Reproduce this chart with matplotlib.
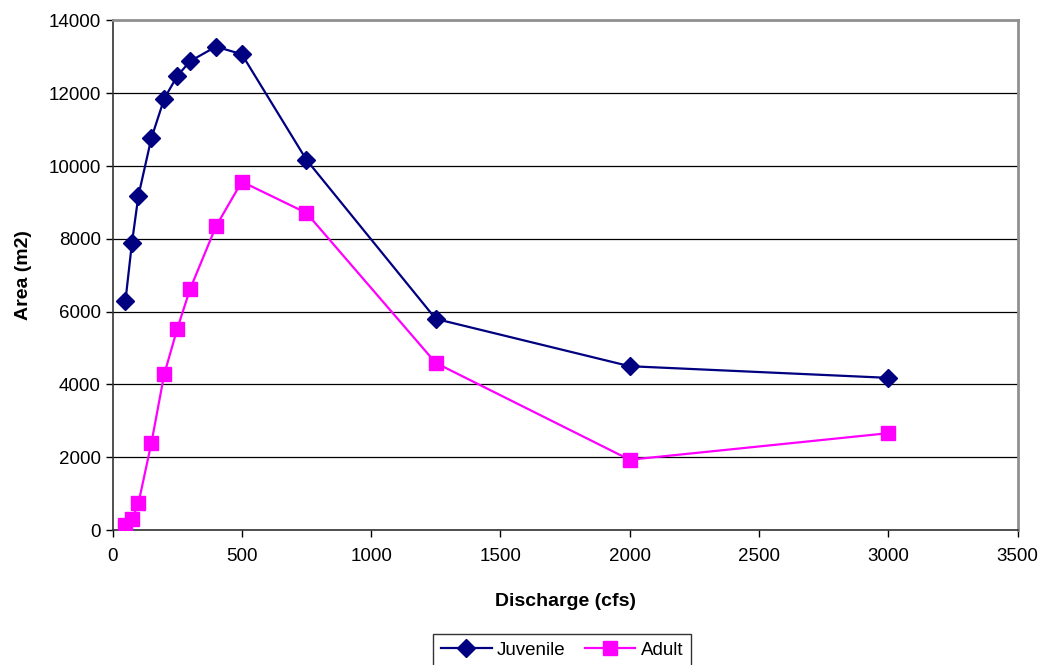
import matplotlib
matplotlib.use("Agg")
import matplotlib.pyplot as plt

plt.rcParams['font.family'] = ['Liberation Sans', 'DejaVu Sans']

discharge = [50, 75, 100, 150, 200, 250, 300, 400, 500, 750, 1250, 2000, 3000]
juvenile = [6300, 7880, 9180, 10760, 11850, 12470, 12880, 13280, 13070, 10170, 5800, 4500, 4180]
adult = [130, 290, 730, 2380, 4280, 5520, 6620, 8340, 9570, 8710, 4590, 1930, 2660]

x_ticks = [0, 500, 1000, 1500, 2000, 2500, 3000, 3500]
y_ticks = [0, 2000, 4000, 6000, 8000, 10000, 12000, 14000]

fig = plt.figure(figsize=(10.4, 6.65), dpi=100)
ax = fig.add_axes([0.1082, 0.203, 0.8702, 0.7663])

ax.plot(discharge, juvenile, color='#000080', marker='D', markersize=9,
        linewidth=1.6, label='Juvenile', zorder=3)
ax.plot(discharge, adult, color='#FF00FF', marker='s', markersize=10,
        linewidth=1.6, label='Adult', zorder=3)

ax.set_xlim(0, 3500)
ax.set_ylim(0, 14000)
ax.set_xticks(x_ticks)
ax.set_yticks(y_ticks)
ax.tick_params(labelsize=13.5, direction='out', length=5, width=1, colors='black')
ax.tick_params(axis='x', pad=8)
ax.grid(axis='y', color='black', linewidth=0.9)
ax.set_axisbelow(True)
for side in ['top', 'right']:
    ax.spines[side].set_color('#909090')
    ax.spines[side].set_linewidth(2)
    ax.spines[side].set_zorder(2.5)
for side in ['left', 'bottom']:
    ax.spines[side].set_color('#333333')
    ax.spines[side].set_linewidth(1.2)

ax.set_xlabel('Discharge (cfs)', fontsize=14, fontweight='bold', labelpad=20)
ax.set_ylabel('Area (m2)', fontsize=14, fontweight='bold', labelpad=12)

leg = fig.legend(loc='lower center', bbox_to_anchor=(0.5405, -0.016), ncol=2,
                 fontsize=13.5, frameon=True, fancybox=False, edgecolor='black',
                 handlelength=2.7, columnspacing=1.0, handletextpad=0.3,
                 borderpad=0.4, markerscale=1.0)
leg.get_frame().set_linewidth(1)

fig.savefig('out.png', dpi=100)
